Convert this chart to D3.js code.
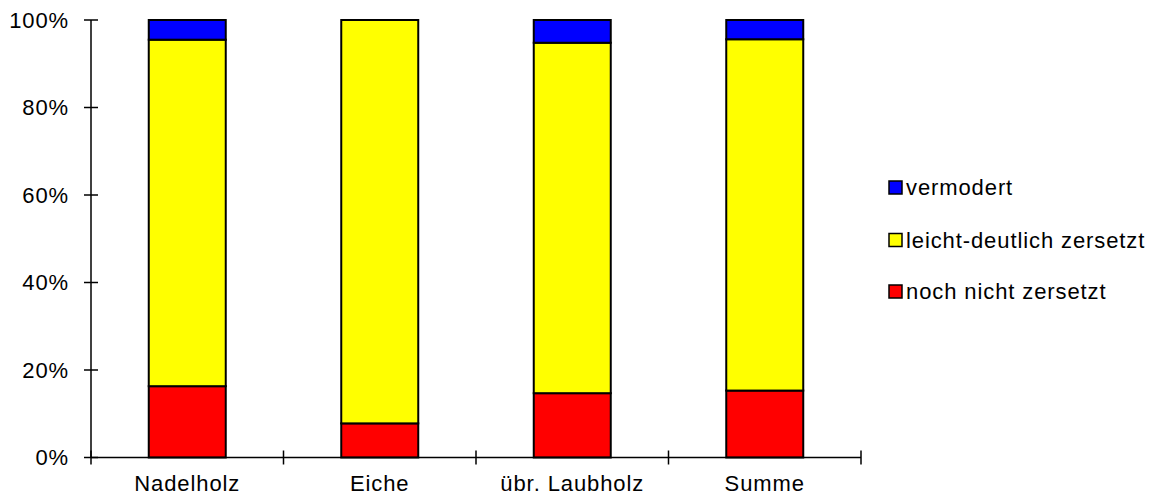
<!DOCTYPE html>
<html>
<head>
<meta charset="utf-8">
<script src="https://cdn.jsdelivr.net/npm/d3@7"></script>
<style>
  html, body { margin: 0; padding: 0; background: #fff; }
  svg text { font-family: "Liberation Sans", Arial, sans-serif; fill: #000; letter-spacing: 0.9px; }
</style>
</head>
<body>
<svg id="chart" width="1153" height="497"></svg>
<script>
// Zersetzungsgrad nach Baumart (Anteile in %)
const categories = ["Nadelholz", "Eiche", "übr. Laubholz", "Summe"];
const nochNichtZersetzt = [16.3, 7.8, 14.7, 15.3];
const leichtDeutlichZersetzt = [79.2, 92.2, 80.1, 80.3];
const vermodert = [4.5, 0, 5.2, 4.4];

const seriesNames = ["noch nicht zersetzt", "leicht-deutlich zersetzt", "vermodert"];
const seriesColors = ["#ff0000", "#ffff00", "#0000ff"];
const yTicks = [0, 20, 40, 60, 80, 100];

const rows = categories.map((c, i) => ({
  cat: c,
  "noch nicht zersetzt": nochNichtZersetzt[i],
  "leicht-deutlich zersetzt": leichtDeutlichZersetzt[i],
  "vermodert": vermodert[i]
}));

const svg = d3.select("#chart");
const x0 = 91, x1 = 861, yTop = 20, yBot = 457.5;

const x = d3.scaleBand().domain(categories).range([x0, x1]).paddingInner(0.6).paddingOuter(0.3);
const y = d3.scaleLinear().domain([0, 100]).range([yBot, yTop]);
const color = d3.scaleOrdinal().domain(seriesNames).range(seriesColors);

const stacked = d3.stack().keys(seriesNames)(rows);

// Bars
const g = svg.append("g");
stacked.forEach(layer => {
  g.selectAll(null)
    .data(layer.filter(d => d[1] - d[0] > 0))
    .enter().append("rect")
    .attr("x", d => x(d.data.cat))
    .attr("width", x.bandwidth())
    .attr("y", d => y(d[1]))
    .attr("height", d => y(d[0]) - y(d[1]))
    .attr("fill", color(layer.key))
    .attr("stroke", "#000")
    .attr("stroke-width", 2);
});

// Y axis with ticks crossing the line
const yAxis = svg.append("g").attr("transform", `translate(${x0},0)`);
yAxis.append("line").attr("x1", 0).attr("x2", 0).attr("y1", y(0)).attr("y2", y(100))
  .attr("stroke", "#000").attr("stroke-width", 1.5);
yAxis.selectAll("line.tick").data(yTicks).enter().append("line")
  .attr("x1", -7).attr("x2", 7).attr("y1", d => y(d)).attr("y2", d => y(d))
  .attr("stroke", "#000").attr("stroke-width", 1.5);
yAxis.selectAll("text").data(yTicks).enter().append("text")
  .attr("x", -22).attr("y", d => y(d)).attr("dy", "0.36em")
  .attr("text-anchor", "end").attr("font-size", 22)
  .text(d => d + "%");

// X axis with category separators
const step = (x1 - x0) / categories.length;
const sepTicks = d3.range(categories.length + 1).map(i => x0 + i * step);
const xAxis = svg.append("g");
xAxis.append("line").attr("x1", x0).attr("x2", x1).attr("y1", yBot).attr("y2", yBot)
  .attr("stroke", "#000").attr("stroke-width", 1.5);
xAxis.selectAll("line.tick").data(sepTicks).enter().append("line")
  .attr("x1", d => d).attr("x2", d => d).attr("y1", yBot - 7).attr("y2", yBot + 7)
  .attr("stroke", "#000").attr("stroke-width", 1.5);
xAxis.selectAll("text").data(categories).enter().append("text")
  .attr("x", d => x(d) + x.bandwidth() / 2).attr("y", 491)
  .attr("text-anchor", "middle").attr("font-size", 22)
  .text(d => d);

// Legend
const legendItems = ["vermodert", "leicht-deutlich zersetzt", "noch nicht zersetzt"];
const legendY = [187.5, 240, 291.5];
const lg = svg.append("g");
legendItems.forEach((name, i) => {
  lg.append("rect").attr("x", 889).attr("y", legendY[i] - 6.5).attr("width", 13).attr("height", 13)
    .attr("fill", color(name)).attr("stroke", "#000").attr("stroke-width", 1.5);
  lg.append("text").attr("x", 906).attr("y", legendY[i]).attr("dy", "0.36em")
    .attr("font-size", 22).text(name);
});
</script>
</body>
</html>
